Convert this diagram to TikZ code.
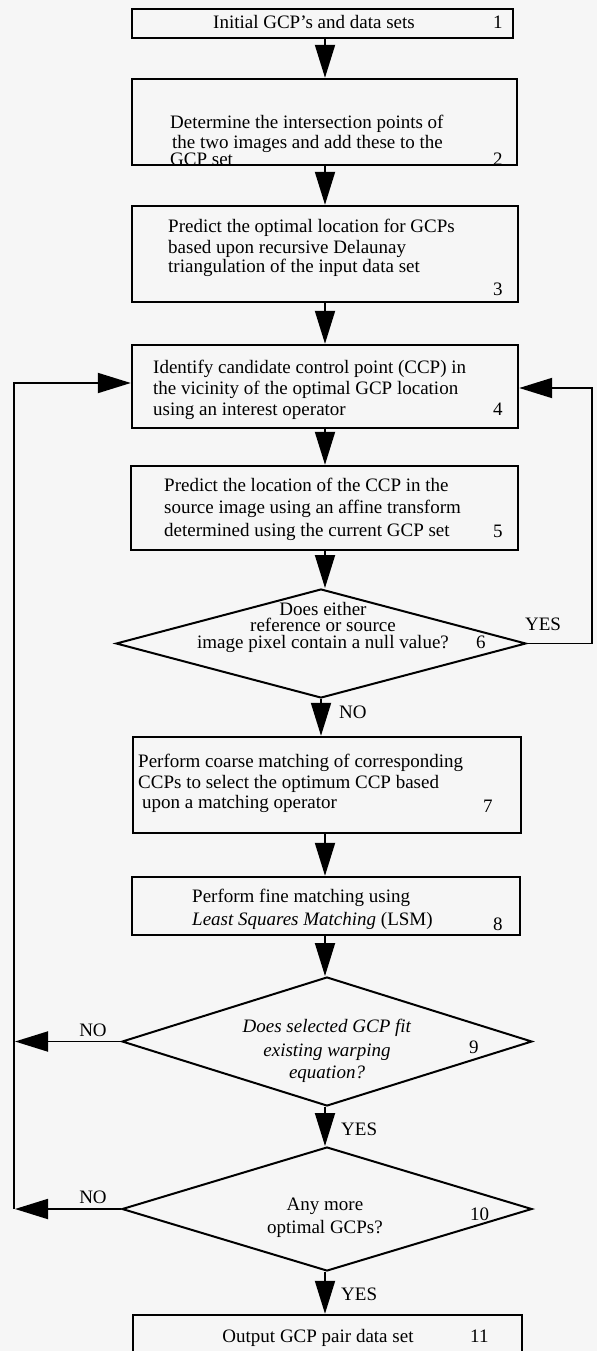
\documentclass[tikz,border=0pt]{standalone}
\usepackage{fontspec}
\setmainfont{Liberation Serif}
\usetikzlibrary{arrows.meta,shapes.geometric}
\definecolor{bg}{RGB}{246,246,246}
\begin{document}
\begin{tikzpicture}[x=1pt,y=-1pt,
  box/.style={draw, rectangle, line width=2.4pt, inner sep=0pt},
  dia/.style={draw, diamond, line width=2pt, inner sep=0pt},
  arr/.style={line width=1.9pt, -{Triangle[length=33pt,width=20pt]}},
  txt/.style={font=\fontsize{19}{21}\selectfont, inner sep=0pt, anchor=base west},
  ctxt/.style={font=\fontsize{19}{21}\selectfont, inner sep=0pt, anchor=base},
  num/.style={font=\fontsize{19}{21}\selectfont, inner sep=0pt, anchor=base west}]
\useasboundingbox (0,0) rectangle (597,1351);
\fill[bg] (0,0) rectangle (597,1351);
\coordinate (axis) at (325,0);
% boxes
\node[box, minimum width=381pt, minimum height=29pt] (b1) at (322.5,23.5) {};
\node[box, minimum width=385pt, minimum height=86pt] (b2) at (324.5,122) {};
\node[box, minimum width=386pt, minimum height=96pt] (b3) at (325,254) {};
\node[box, minimum width=386pt, minimum height=83pt] (b4) at (325,386.5) {};
\node[box, minimum width=387pt, minimum height=84pt] (b5) at (324.5,508) {};
\node[dia, minimum width=410pt, minimum height=109pt] (d6) at (321,643.5) {};
\node[box, minimum width=388pt, minimum height=96pt] (b7) at (327,785) {};
\node[box, minimum width=388pt, minimum height=58pt] (b8) at (326,906) {};
\node[dia, minimum width=410pt, minimum height=129pt] (d9) at (327,1041.5) {};
\node[dia, minimum width=410pt, minimum height=124pt] (d10) at (327,1209) {};
\node[box, minimum width=389pt, minimum height=50pt] (b11) at (327.5,1340) {};
% texts
\node[ctxt] (t1) at (314,29) {Initial GCP’s and data sets};
\node[num] (n1) at (493,29) {1};
\node[txt] (t2a) at (170,129) {Determine the intersection points of};
\node[txt] (t2b) at (172,149) {the two images and add these to the};
\node[txt] (t2c) at (170,166) {GCP set};
\node[num] (n2) at (493,166) {2};
\node[txt] (t3a) at (168,233) {Predict the optimal location for GCPs};
\node[txt] (t3b) at (168,253) {based upon recursive Delaunay};
\node[txt] (t3c) at (168,272) {triangulation of the input data set};
\node[num] (n3) at (493,295) {3};
\node[txt] (t4a) at (153,373) {Identify candidate control point (CCP) in};
\node[txt] (t4b) at (153,394) {the vicinity of the optimal GCP location};
\node[txt] (t4c) at (153,415) {using an interest operator};
\node[num] (n4) at (493,415) {4};
\node[txt] (t5a) at (164,491) {Predict the location of the CCP in the};
\node[txt] (t5b) at (164,513) {source image using an affine transform};
\node[txt] (t5c) at (164,536) {determined using the current GCP set};
\node[num] (n5) at (493,537) {5};
\node[ctxt] (t6a) at (323,615) {Does either};
\node[ctxt] (t6b) at (323,631.5) {reference or source};
\node[ctxt] (t6c) at (323,648) {image pixel contain a null value?};
\node[num] (n6) at (476,648) {6};
\node[txt] (t7a) at (138,767) {Perform coarse matching of corresponding};
\node[txt] (t7b) at (138,788) {CCPs to select the optimum CCP based};
\node[txt] (t7c) at (142,808) {upon a matching operator};
\node[num] (n7) at (483,812) {7};
\node[txt] (t8a) at (192,902) {Perform fine matching using};
\node[txt] (t8b) at (192,925) {\textit{Least Squares Matching} (LSM)};
\node[num] (n8) at (493,930) {8};
\node[ctxt] (t9a) at (327,1032) {\textit{Does selected GCP fit}};
\node[ctxt] (t9b) at (327,1056) {\textit{existing warping}};
\node[ctxt] (t9c) at (327,1078) {\textit{equation?}};
\node[num] (n9) at (469,1053) {9};
\node[ctxt] (t10a) at (325,1210) {Any more};
\node[ctxt] (t10b) at (325,1233) {optimal GCPs?};
\node[num] (n10) at (470,1220) {10};
\node[ctxt] (t11) at (318,1342) {Output GCP pair data set};
\node[num] (n11) at (470,1342) {11};
% labels
\node[ctxt] (y6) at (543,630) {YES};
\node[txt] (no6) at (339,718) {NO};
\node[ctxt] (no9) at (93,1036) {NO};
\node[ctxt] (no10) at (93,1203) {NO};
\node[txt] (y9) at (341,1135) {YES};
\node[txt] (y10) at (341,1300) {YES};
% main flow
\draw[arr] (b1.south -| axis) -- (b2.north -| axis);
\draw[arr] (b2.south -| axis) -- (b3.north -| axis);
\draw[arr] (b3.south -| axis) -- (b4.north -| axis);
\draw[arr] (b4.south -| axis) -- (b5.north -| axis);
\draw[arr] (b5.south -| axis) -- (d6.north -| axis);
\draw[arr] (d6.south) -- (b7.north -| d6.south);
\draw[arr] (b7.south -| axis) -- (b8.north -| axis);
\draw[arr] (b8.south -| axis) -- (d9.north -| axis);
\draw[arr] (d9.south -| axis) -- (d10.north -| axis);
\draw[arr] (d10.south -| axis) -- (b11.north -| axis);
% loops
\coordinate (rc) at (592,388);
\coordinate (lc) at (14,383);
\draw[arr] (d6.east) -| (rc) -- (b4.east |- rc);
\draw[arr] (d9.west) -- ([xshift=1pt]d9.west -| lc);
\draw[arr] (d10.west) -- ([xshift=1pt]d10.west -| lc);
\draw[arr] (d10.west -| lc) -- (lc) -- (b4.west |- lc);
\end{tikzpicture}
\end{document}
